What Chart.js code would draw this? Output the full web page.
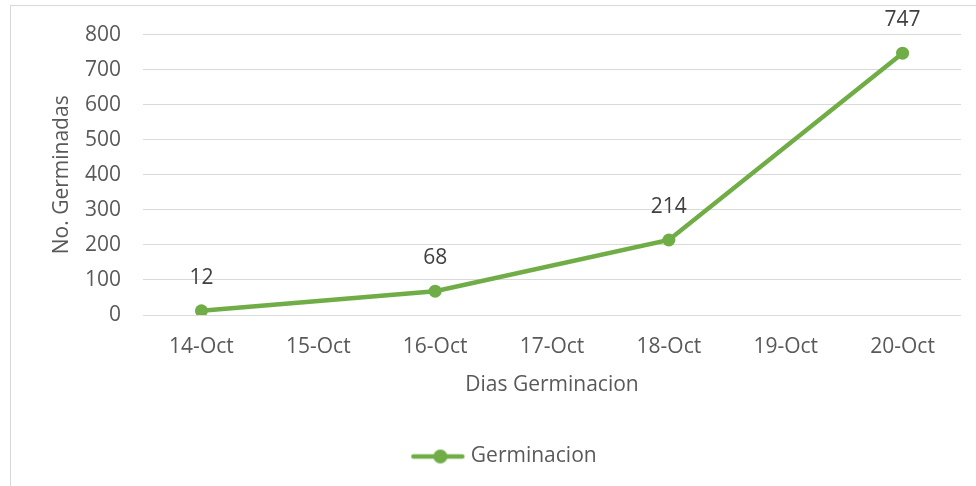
<!DOCTYPE html>
<html>
<head>
<meta charset="utf-8">
<script src="https://cdn.jsdelivr.net/npm/chart.js@4/dist/chart.umd.min.js"></script>
<style>
    html, body { margin: 0; padding: 0; background: #fff; }
    #wrap { position: relative; width: 976px; height: 486px; overflow: hidden; }
    #frame { position: absolute; left: 10px; top: 5px; width: 980px; height: 500px; border: 1px solid #d9d9d9; box-sizing: border-box; }
    #chart { position: absolute; left: 0; top: 0; }
</style>
</head>
<body>
<div id="wrap">
    <div id="frame"></div>
    <canvas id="chart" width="976" height="486"></canvas>
</div>
<script>
// chart data
const days = ['14-Oct', '15-Oct', '16-Oct', '17-Oct', '18-Oct', '19-Oct', '20-Oct'];
const germinadas = [12, null, 68, null, 214, null, 747];
const yTicks = [0, 100, 200, 300, 400, 500, 600, 700, 800];

const green = '#70ad47';
const textGrey = '#595959';
const fontFamily = '"Open Sans", sans-serif';
const fontSize = 21;

// legend marker: line with a dot, drawn in the right part of a wider image
// so the legend item sits a bit right of center like in Excel
const marker = document.createElement('canvas');
marker.width = 106;
marker.height = 16;
const mctx = marker.getContext('2d');
mctx.strokeStyle = green;
mctx.lineWidth = 4.5;
mctx.lineCap = 'round';
mctx.beginPath();
mctx.moveTo(54, 8);
mctx.lineTo(103, 8);
mctx.stroke();
mctx.fillStyle = green;
mctx.beginPath();
mctx.arc(81, 8, 7, 0, Math.PI * 2);
mctx.fill();

// value labels above the points
const valueLabels = {
    id: 'valueLabels',
    afterDatasetsDraw(chart) {
        const ctx = chart.ctx;
        const meta = chart.getDatasetMeta(0);
        ctx.save();
        ctx.font = fontSize + 'px ' + fontFamily;
        ctx.fillStyle = '#404040';
        ctx.textAlign = 'center';
        ctx.textBaseline = 'middle';
        meta.data.forEach((pt, i) => {
            const v = chart.data.datasets[0].data[i];
            if (v === null) { return; }
            ctx.fillText(String(v), pt.x, pt.y - 33);
        });
        ctx.restore();
    }
};

new Chart(document.getElementById('chart'), {
    type: 'line',
    data: {
        labels: days,
        datasets: [{
            label: 'Germinacion',
            data: germinadas,
            borderColor: green,
            backgroundColor: green,
            borderWidth: 4.5,
            pointRadius: 6.5,
            pointBorderWidth: 0,
            pointBackgroundColor: green,
            pointStyle: 'circle',
            tension: 0,
            spanGaps: true
        }]
    },
    options: {
        responsive: false,
        animation: false,
        events: [],
        layout: {
            padding: { left: 0, top: 34, right: 15, bottom: 9 }
        },
        plugins: {
            tooltip: { enabled: false },
            legend: {
                position: 'bottom',
                labels: {
                    color: textGrey,
                    font: { family: fontFamily, size: fontSize },
                    usePointStyle: true,
                    pointStyleWidth: 96,
                    padding: 14,
                    generateLabels: (chart) => [{
                        text: 'Germinacion',
                        pointStyle: marker,
                        fillStyle: green,
                        strokeStyle: green,
                        fontColor: textGrey,
                        lineWidth: 0,
                        datasetIndex: 0
                    }]
                }
            }
        },
        scales: {
            x: {
                offset: true,
                grid: { display: false, drawTicks: false },
                border: { display: false },
                ticks: {
                    color: textGrey,
                    font: { family: fontFamily, size: fontSize },
                    padding: 19,
                    maxRotation: 0
                },
                title: {
                    display: true,
                    text: 'Dias Germinacion',
                    color: textGrey,
                    font: { family: fontFamily, size: fontSize },
                    padding: { top: 0, bottom: 34 }
                },
                afterFit: (scale) => { scale.height = 117; }
            },
            y: {
                min: 0,
                max: 800,
                afterBuildTicks: (scale) => { scale.ticks = yTicks.map(v => ({ value: v })); },
                grid: { color: '#d9d9d9', lineWidth: 1, drawTicks: false },
                border: { display: false },
                ticks: {
                    color: textGrey,
                    font: { family: fontFamily, size: fontSize },
                    padding: 22
                },
                title: {
                    display: true,
                    text: 'No. Germinadas',
                    color: textGrey,
                    font: { family: fontFamily, size: fontSize },
                    padding: { top: 49, bottom: 0 }
                },
                afterFit: (scale) => { scale.width = 143; }
            }
        }
    },
    plugins: [valueLabels]
});
</script>
</body>
</html>
